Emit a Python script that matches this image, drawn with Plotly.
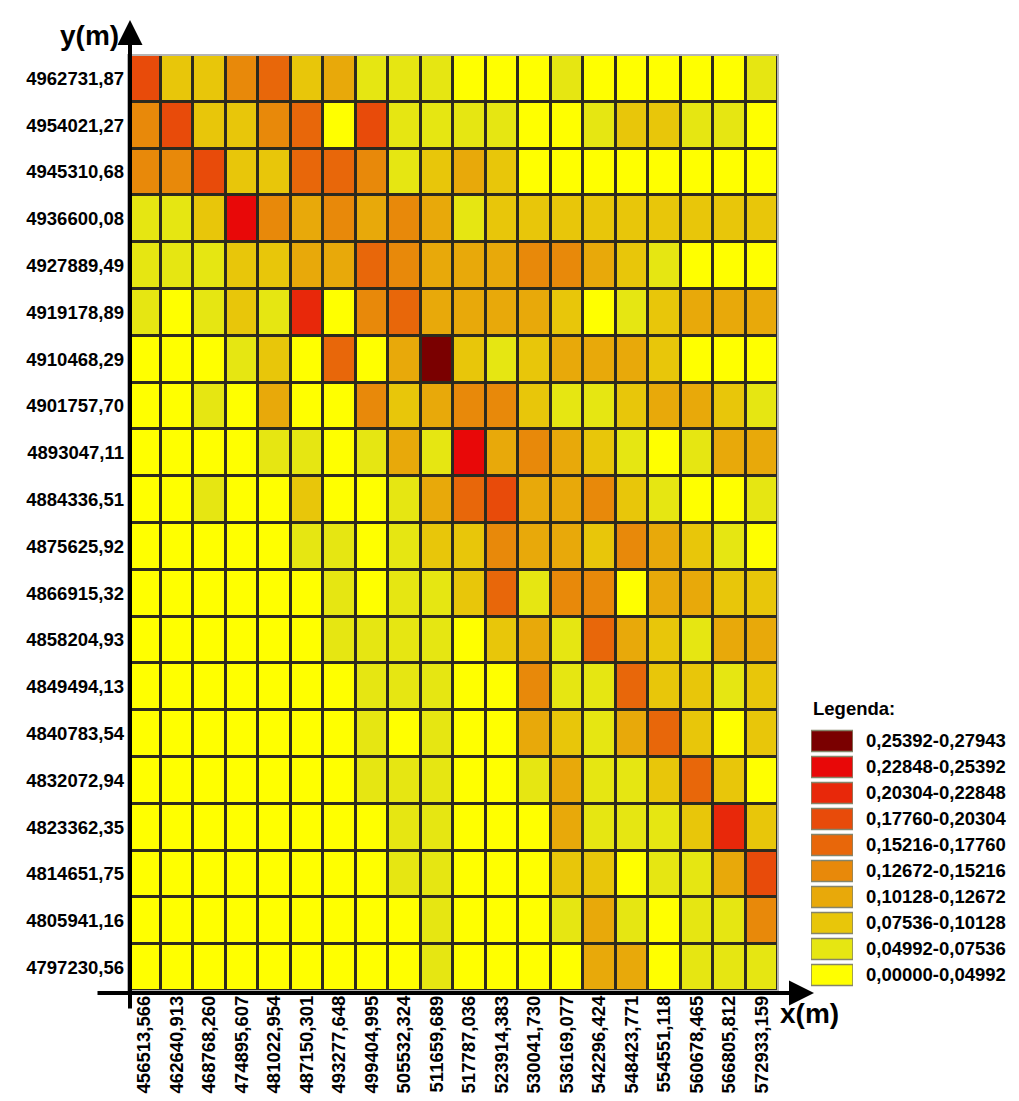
"""
plot.py - probability grid (20 x 20 cells) with class legend

Heatmap of cell values over UTM-like coordinates, coloured by 10 classes.
"""

import plotly.graph_objects as go

# ---------------------------------------------------------------------------
# DATA
# ---------------------------------------------------------------------------
X_LABELS = [
    "456513,566", "462640,913", "468768,260", "474895,607", "481022,954",
    "487150,301", "493277,648", "499404,995", "505532,324", "511659,689",
    "517787,036", "523914,383", "530041,730", "536169,077", "542296,424",
    "548423,771", "554551,118", "560678,465", "566805,812", "572933,159",
]

# top row first
Y_LABELS = [
    "4962731,87", "4954021,27", "4945310,68", "4936600,08", "4927889,49",
    "4919178,89", "4910468,29", "4901757,70", "4893047,11", "4884336,51",
    "4875625,92", "4866915,32", "4858204,93", "4849494,13", "4840783,54",
    "4832072,94", "4823362,35", "4814651,75", "4805941,16", "4797230,56",
]

# estimated cell values (read from the class colour of each cell), top row first
VALUES = [
    [0.190, 0.088, 0.088, 0.139, 0.165, 0.088, 0.114, 0.063, 0.063, 0.063, 0.025, 0.025, 0.025, 0.063, 0.025, 0.025, 0.025, 0.025, 0.025, 0.063],
    [0.139, 0.190, 0.088, 0.088, 0.139, 0.165, 0.025, 0.190, 0.063, 0.063, 0.063, 0.063, 0.025, 0.025, 0.063, 0.088, 0.088, 0.063, 0.063, 0.025],
    [0.139, 0.139, 0.190, 0.088, 0.088, 0.165, 0.165, 0.139, 0.063, 0.088, 0.114, 0.088, 0.025, 0.025, 0.025, 0.025, 0.025, 0.025, 0.025, 0.025],
    [0.063, 0.063, 0.088, 0.241, 0.139, 0.114, 0.139, 0.114, 0.139, 0.114, 0.063, 0.088, 0.088, 0.088, 0.088, 0.088, 0.088, 0.088, 0.088, 0.088],
    [0.063, 0.063, 0.063, 0.088, 0.088, 0.114, 0.114, 0.165, 0.139, 0.114, 0.114, 0.114, 0.139, 0.139, 0.114, 0.088, 0.063, 0.025, 0.025, 0.025],
    [0.063, 0.025, 0.063, 0.088, 0.063, 0.216, 0.025, 0.139, 0.165, 0.114, 0.114, 0.114, 0.114, 0.088, 0.025, 0.063, 0.088, 0.114, 0.114, 0.114],
    [0.025, 0.025, 0.025, 0.063, 0.088, 0.025, 0.165, 0.025, 0.114, 0.267, 0.088, 0.063, 0.088, 0.114, 0.114, 0.114, 0.088, 0.025, 0.025, 0.025],
    [0.025, 0.025, 0.063, 0.025, 0.114, 0.025, 0.025, 0.139, 0.088, 0.114, 0.139, 0.139, 0.088, 0.063, 0.063, 0.088, 0.114, 0.114, 0.088, 0.063],
    [0.025, 0.025, 0.025, 0.025, 0.063, 0.063, 0.025, 0.063, 0.114, 0.063, 0.241, 0.114, 0.139, 0.114, 0.088, 0.063, 0.025, 0.063, 0.114, 0.114],
    [0.025, 0.025, 0.063, 0.025, 0.025, 0.088, 0.025, 0.025, 0.063, 0.114, 0.165, 0.190, 0.114, 0.114, 0.139, 0.088, 0.063, 0.025, 0.025, 0.063],
    [0.025, 0.025, 0.025, 0.025, 0.025, 0.063, 0.063, 0.025, 0.063, 0.088, 0.088, 0.139, 0.114, 0.114, 0.088, 0.139, 0.114, 0.088, 0.063, 0.025],
    [0.025, 0.025, 0.025, 0.025, 0.025, 0.025, 0.063, 0.025, 0.063, 0.063, 0.088, 0.165, 0.063, 0.139, 0.139, 0.025, 0.114, 0.114, 0.088, 0.088],
    [0.025, 0.025, 0.025, 0.025, 0.025, 0.025, 0.063, 0.063, 0.063, 0.063, 0.025, 0.088, 0.114, 0.063, 0.165, 0.114, 0.088, 0.063, 0.114, 0.114],
    [0.025, 0.025, 0.025, 0.025, 0.025, 0.025, 0.025, 0.063, 0.063, 0.063, 0.025, 0.025, 0.139, 0.063, 0.063, 0.165, 0.088, 0.088, 0.063, 0.088],
    [0.025, 0.025, 0.025, 0.025, 0.025, 0.025, 0.025, 0.063, 0.025, 0.063, 0.025, 0.025, 0.114, 0.088, 0.063, 0.114, 0.165, 0.088, 0.025, 0.088],
    [0.025, 0.025, 0.025, 0.025, 0.025, 0.025, 0.025, 0.063, 0.063, 0.063, 0.025, 0.025, 0.063, 0.114, 0.063, 0.063, 0.088, 0.165, 0.088, 0.025],
    [0.025, 0.025, 0.025, 0.025, 0.025, 0.025, 0.025, 0.025, 0.063, 0.063, 0.025, 0.025, 0.025, 0.114, 0.063, 0.063, 0.063, 0.088, 0.216, 0.088],
    [0.025, 0.025, 0.025, 0.025, 0.025, 0.025, 0.025, 0.025, 0.063, 0.063, 0.025, 0.025, 0.025, 0.088, 0.088, 0.025, 0.063, 0.063, 0.114, 0.190],
    [0.025, 0.025, 0.025, 0.025, 0.025, 0.025, 0.025, 0.025, 0.025, 0.063, 0.025, 0.025, 0.025, 0.063, 0.114, 0.063, 0.025, 0.063, 0.063, 0.139],
    [0.025, 0.025, 0.025, 0.025, 0.025, 0.025, 0.025, 0.025, 0.025, 0.063, 0.025, 0.025, 0.025, 0.025, 0.114, 0.114, 0.025, 0.063, 0.063, 0.063],
]

# class breaks (lowest first) and their labels
CLASS_BREAKS = [0.0, 0.04992, 0.07536, 0.10128, 0.12672, 0.15216,
                0.17760, 0.20304, 0.22848, 0.25392, 0.27943]
CLASS_LABELS = [
    "0,00000-0,04992", "0,04992-0,07536", "0,07536-0,10128", "0,10128-0,12672",
    "0,12672-0,15216", "0,15216-0,17760", "0,17760-0,20304", "0,20304-0,22848",
    "0,22848-0,25392", "0,25392-0,27943",
]

# ---------------------------------------------------------------------------
# STYLE
# ---------------------------------------------------------------------------
WIDTH, HEIGHT = 1019, 1101
CLASS_COLORS = [
    "#ffff00", "#e6e612", "#e8c60a", "#e8a90a", "#e8890a",
    "#e8670a", "#e84b0a", "#e8280a", "#e80808", "#7a0000",
]
GRID_LINE = "#2d2a1e"
FONT = "Liberation Sans, Arial, sans-serif"


def px_x(px):
    return px / WIDTH


def px_y(px):
    return 1 - px / HEIGHT


def stepped_scale():
    zmax = CLASS_BREAKS[-1]
    scale = []
    for i, color in enumerate(CLASS_COLORS):
        scale.append([CLASS_BREAKS[i] / zmax, color])
        scale.append([CLASS_BREAKS[i + 1] / zmax, color])
    return scale


def build_figure():
    fig = go.Figure()

    fig.add_trace(
        go.Heatmap(
            z=VALUES,
            x=X_LABELS,
            y=Y_LABELS,
            zmin=CLASS_BREAKS[0],
            zmax=CLASS_BREAKS[-1],
            colorscale=stepped_scale(),
            showscale=False,
            xgap=3,
            ygap=3,
            hovertemplate="x=%{x}<br>y=%{y}<br>%{z}<extra></extra>",
        )
    )

    # legend swatches, drawn as bars on their own axes
    fig.add_trace(
        go.Bar(
            x=[1] * len(CLASS_LABELS),
            y=CLASS_LABELS,
            orientation="h",
            width=0.8,
            marker=dict(color=CLASS_COLORS, line=dict(color="#85856a", width=1.5)),
            xaxis="x2",
            yaxis="y2",
            showlegend=False,
            hoverinfo="skip",
        )
    )

    tick_font = dict(family=FONT, size=18.5, color="black", weight="bold")

    fig.update_layout(
        width=WIDTH,
        height=HEIGHT,
        margin=dict(l=0, r=0, t=0, b=0),
        paper_bgcolor="white",
        plot_bgcolor="white",
        showlegend=False,
        xaxis=dict(
            domain=[px_x(120), px_x(770)],
            type="category",
            tickangle=-90,
            tickfont=tick_font,
            ticks="",
            ticklabelstandoff=0,
            showgrid=False,
            zeroline=False,
            automargin=False,
        ),
        yaxis=dict(
            domain=[px_y(983), px_y(47)],
            type="category",
            autorange="reversed",
            tickfont=tick_font,
            ticks="",
            ticklabelstandoff=3,
            showgrid=False,
            zeroline=False,
            automargin=False,
        ),
        xaxis2=dict(
            domain=[px_x(803), px_x(845)],
            range=[0, 1],
            anchor="y2",
            visible=False,
            fixedrange=True,
        ),
        yaxis2=dict(
            domain=[px_y(980), px_y(720)],
            anchor="x2",
            type="category",
            side="right",
            tickfont=tick_font,
            ticks="",
            ticklabelstandoff=12,
            showgrid=False,
            zeroline=False,
            showline=False,
            automargin=False,
        ),
    )

    # dark background behind the cells gives the grid lines
    fig.add_shape(
        type="rect", xref="x domain", yref="y domain",
        x0=0, x1=1, y0=0, y1=1,
        fillcolor=GRID_LINE, line=dict(color="#b5b5b5", width=2),
        layer="below",
    )

    # axis arrows
    arrow = dict(
        text="", showarrow=True, arrowhead=2, arrowwidth=4, arrowsize=1.25,
        arrowcolor="black", xref="paper", yref="paper",
    )
    fig.add_annotation(x=px_x(122), y=px_y(12), ax=0, ay=990, **arrow)
    fig.add_annotation(x=px_x(806), y=px_y(985), ax=-718, ay=0, **arrow)

    label_font = dict(family=FONT, size=28, color="black", weight="bold")
    fig.add_annotation(
        text="y(m)", x=px_x(113), y=px_y(27), xref="paper", yref="paper",
        xanchor="right", yanchor="middle", showarrow=False, font=label_font,
    )
    fig.add_annotation(
        text="x(m)", x=px_x(770), y=px_y(1005), xref="paper", yref="paper",
        xanchor="left", yanchor="middle", showarrow=False, font=label_font,
    )
    fig.add_annotation(
        text="Legenda:", x=px_x(803), y=px_y(700), xref="paper", yref="paper",
        xanchor="left", yanchor="middle", showarrow=False,
        font=dict(family=FONT, size=18.5, color="black", weight="bold"),
    )
    return fig


def main():
    fig = build_figure()
    fig.write_html("out.html")


if __name__ == "__main__":
    main()
